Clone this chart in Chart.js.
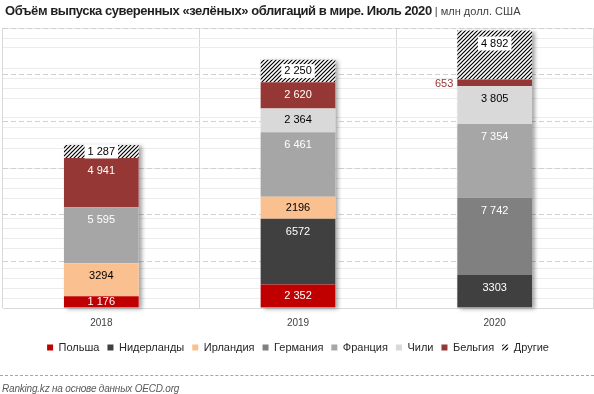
<!DOCTYPE html>
<html>
<head>
<meta charset="utf-8">
<script src="https://cdn.jsdelivr.net/npm/chart.js@4"></script>
<style>
  html, body { margin: 0; padding: 0; background: #fff; }
  #wrap { position: relative; width: 594px; height: 394px; overflow: hidden; }
  #title { position: absolute; left: 5px; top: 3px; font: bold 13px "Liberation Sans"; letter-spacing: -0.45px; color: #1f1f1f; white-space: nowrap; }
  #title span { font-weight: normal; font-size: 11px; letter-spacing: 0; color: #404040; }
  #line { position: absolute; left: 0; top: 375px; width: 594px; border-top: 1px dashed #a6a6a6; }
  #src { position: absolute; left: 2px; top: 383px; font: italic 10px "Liberation Sans"; letter-spacing: -0.2px; color: #595959; }
  canvas { position: absolute; left: 0; top: 0; }
</style>
</head>
<body>
<div id="wrap">
  <canvas id="chart" width="594" height="394"></canvas>
  <div id="title">Объём выпуска суверенных «зелёных» облигаций в мире. Июль 2020 <span>| млн долл. США</span></div>
  <div id="line"></div>
  <div id="src">Ranking.kz на основе данных OECD.org</div>
</div>
<script>
const years = ['2018', '2019', '2020'];
const seriesNames = ['Польша', 'Нидерланды', 'Ирландия', 'Германия', 'Франция', 'Чили', 'Бельгия', 'Другие'];
const poland = [1176, 2352, null];
const netherlands = [null, 6572, 3303];
const ireland = [3294, 2196, null];
const germany = [null, null, 7742];
const france = [5595, 6461, 7354];
const chile = [null, 2364, 3805];
const belgium = [4941, 2620, 653];
const others = [1287, 2250, 4892];
const yMax = 28000;

const seriesValues = [poland, netherlands, ireland, germany, france, chile, belgium, others];

// стили сегментов
const colors = ['#c00000', '#404040', '#fac090', '#808080', '#a6a6a6', '#d9d9d9', '#953735', null];
const labelColors = ['#fff', '#fff', '#000', '#fff', '#fff', '#000', '#fff', '#000'];
const spaced = [true, false, false, true, true, true, true, true];

const canvas = document.getElementById('chart');
const ctx0 = canvas.getContext('2d');

function hatchPattern() {
  const c = document.createElement('canvas');
  c.width = 4; c.height = 4;
  const g = c.getContext('2d');
  g.fillStyle = '#fff';
  g.fillRect(0, 0, 4, 4);
  g.strokeStyle = '#000';
  g.lineWidth = 1.2;
  g.beginPath();
  g.moveTo(0, 4); g.lineTo(4, 0);
  g.moveTo(-1, 1); g.lineTo(1, -1);
  g.moveTo(3, 5); g.lineTo(5, 3);
  g.stroke();
  return ctx0.createPattern(c, 'repeat');
}
const hatch = hatchPattern();

function fmt(v, i) {
  const s = String(v);
  return spaced[i] ? s.replace(/\B(?=(\d{3})+(?!\d))/g, ' ') : s;
}

// тень под столбиками (один прямоугольник на стопку)
const shadowPlugin = {
  id: 'stackShadow',
  beforeDatasetsDraw(chart) {
    const ctx = chart.ctx;
    const y = chart.scales.y;
    ctx.save();
    ctx.shadowColor = 'rgba(0,0,0,0.35)';
    ctx.shadowBlur = 4;
    ctx.shadowOffsetX = 3;
    ctx.shadowOffsetY = 1;
    ctx.fillStyle = '#fff';
    years.forEach((yr, j) => {
      let total = 0;
      seriesValues.forEach(arr => { total += arr[j] || 0; });
      const bar = chart.getDatasetMeta(4).data[j];
      const top = y.getPixelForValue(total);
      ctx.fillRect(bar.x - bar.width / 2, top, bar.width, y.getPixelForValue(0) - top);
    });
    ctx.restore();
  }
};

const labelPlugin = {
  id: 'segLabels',
  afterDatasetsDraw(chart) {
    const ctx = chart.ctx;
    ctx.save();
    ctx.font = '11px "Liberation Sans"';
    ctx.textBaseline = 'middle';
    chart.data.datasets.forEach((ds, i) => {
      chart.getDatasetMeta(i).data.forEach((bar, j) => {
        const v = ds.data[j];
        if (v == null) return;
        const top = bar.y, bottom = bar.base, h = bottom - top;
        const txt = fmt(v, i);
        if (h < 9) {
          ctx.textAlign = 'right';
          ctx.fillStyle = colors[i];
          ctx.fillText(txt, bar.x - bar.width / 2 - 4, (top + bottom) / 2 + 1);
          return;
        }
        const ty = Math.min(top + 13, (top + bottom) / 2);
        ctx.textAlign = 'center';
        if (i === 7) {
          const w = ctx.measureText(txt).width + 6;
          ctx.fillStyle = '#fff';
          ctx.fillRect(bar.x - w / 2, ty - 7, w, 14);
        }
        ctx.fillStyle = labelColors[i];
        ctx.fillText(txt, bar.x, ty);
      });
    });
    ctx.restore();
  }
};

new Chart(canvas, {
  type: 'bar',
  data: {
    labels: years,
    datasets: seriesNames.map((name, i) => ({
      label: name,
      data: seriesValues[i],
      backgroundColor: colors[i] || hatch,
      borderWidth: 0,
      categoryPercentage: 0.38,
      barPercentage: 1
    }))
  },
  options: {
    responsive: false,
    animation: false,
    layout: { padding: { top: 28, left: 3, right: 1, bottom: 31 } },
    plugins: {
      legend: {
        position: 'bottom',
        labels: {
          boxWidth: 6,
          boxHeight: 6,
          padding: 8,
          color: '#262626',
          font: { family: 'Liberation Sans', size: 11 }
        }
      },
      tooltip: { enabled: false }
    },
    scales: {
      x: {
        stacked: true,
        afterFit: s => { s.height = 26; },
        grid: { offset: true, color: '#d9d9d9', drawTicks: false },
        border: { color: '#d9d9d9' },
        ticks: { padding: 10, color: '#404040', font: { family: 'Liberation Sans', size: 10, lineHeight: 1 } }
      },
      y: {
        stacked: true,
        min: 0,
        max: yMax,
        ticks: { display: false, stepSize: 1000 },
        grid: { drawTicks: false, color: c => c.tick.value % 5000 === 0 ? 'rgba(0,0,0,0)' : '#ececec' },
        border: { display: false }
      },
      y2: {
        position: 'left',
        min: 0,
        max: yMax,
        ticks: { display: false, stepSize: 5000 },
        grid: { drawTicks: false, color: c => c.tick.value === 0 ? 'rgba(0,0,0,0)' : '#d0d0d0' },
        border: { display: false, dash: [5, 3] }
      }
    }
  },
  plugins: [shadowPlugin, labelPlugin]
});
</script>
</body>
</html>
